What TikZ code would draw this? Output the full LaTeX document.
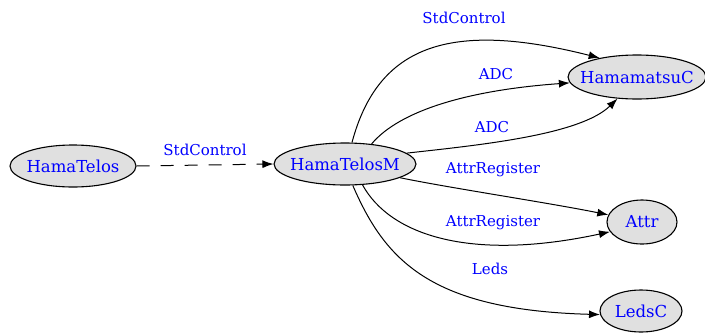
\documentclass[tikz,border=0pt]{standalone}
\usepackage{fontspec}
\setmainfont{DejaVu Serif}
\usetikzlibrary{shapes.geometric,arrows.meta}
\definecolor{nodefill}{HTML}{E0E0E0}
\definecolor{labelblue}{HTML}{0000FF}
\begin{document}
\begin{tikzpicture}[x=1pt,y=-1pt,
  comp/.style={ellipse,draw=black,line width=1.1pt,fill=nodefill,inner xsep=-8pt,inner ysep=0pt,text=labelblue,font=\fontsize{16.5}{19}\selectfont},
  elabel/.style={text=labelblue,font=\fontsize{15}{18}\selectfont,inner sep=0pt},
  wire/.style={draw=black,line width=1pt,-{Latex[length=11pt,width=8pt]}}]
\useasboundingbox (0,0) rectangle (705,333);
\node[comp,minimum width=126pt,minimum height=42pt] (ht) at (73,166) {HamaTelos};
\node[comp,minimum width=142pt,minimum height=42pt] (htm) at (345,164) {HamaTelosM};
\node[comp,minimum width=134pt,minimum height=44pt] (hc) at (637,77) {HamamatsuC};
\node[comp,minimum width=70pt,minimum height=44pt] (at) at (642,222) {Attr};
\node[comp,minimum width=82pt,minimum height=42pt] (lc) at (641,311) {LedsC};

\draw[wire,dash pattern=on 13pt off 11pt] (ht.east) -- (htm.west);
\node[elabel] (l0) at (205,150) {StdControl};

\draw[wire] (htm.72) .. controls (378,45) and (450,20) .. (hc.153);
\node[elabel] (l1) at (464,18) {StdControl};

\draw[wire] (htm.37) .. controls (400,110) and (470,90) .. (hc.185);
\node[elabel] (l2) at (496,74) {ADC};

\draw[wire] (htm.10) .. controls (480,145) and (580,135) .. (hc.228);
\node[elabel] (l3) at (492,127) {ADC};

\draw[wire] (htm.-14) .. controls (450,188) and (550,203) .. (at.168);
\node[elabel] (l4) at (493,170) {AttrRegister};

\draw[wire] (htm.-50) .. controls (390,235) and (470,262) .. (at.197);
\node[elabel] (l5) at (493,223) {AttrRegister};

\draw[wire] (htm.-70) .. controls (385,260) and (430,310) .. (lc.185);
\node[elabel] (l6) at (490,269) {Leds};
\end{tikzpicture}
\end{document}
